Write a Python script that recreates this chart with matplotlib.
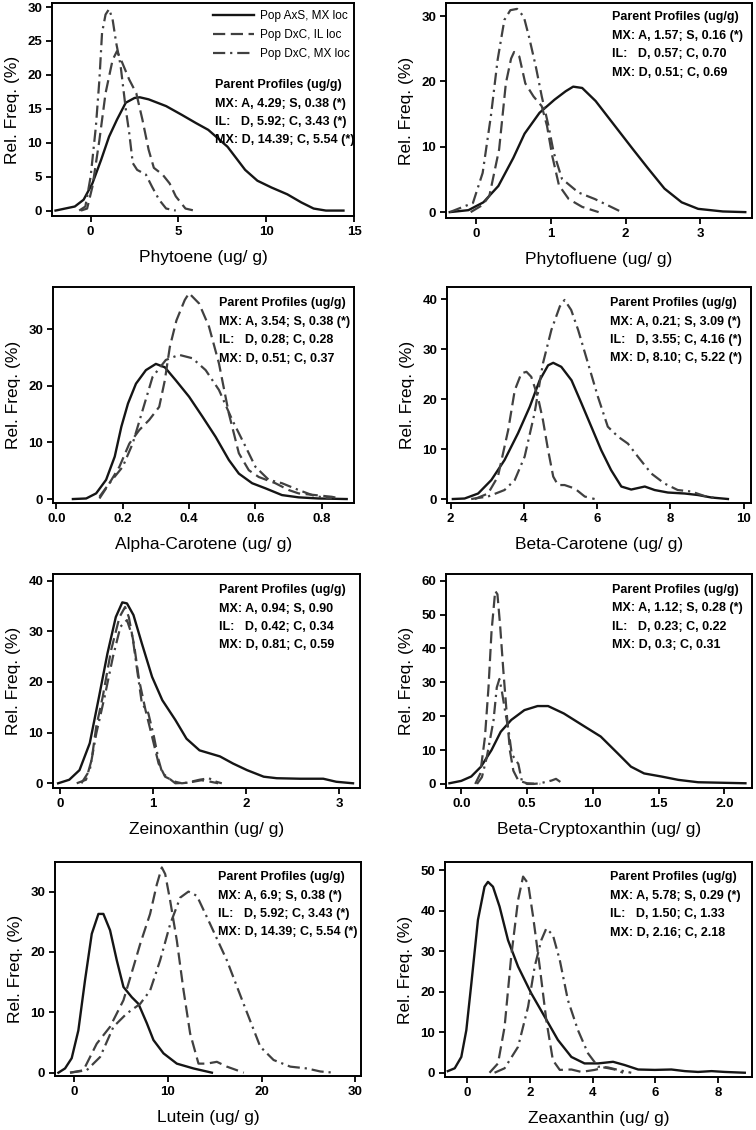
import matplotlib
matplotlib.use('Agg')
import matplotlib.pyplot as plt
from matplotlib.lines import Line2D

plt.rcParams['font.family'] = ['Liberation Sans', 'DejaVu Sans']

# (x, y) points; axs = Pop AxS MX, il = Pop DxC IL, mx = Pop DxC MX
phytoene_axs = [(-2.0, 0), (-0.9, 0.6), (-0.4, 1.6), (0.1, 4.0), (0.6, 7.5), (1.05, 10.9), (1.5, 13.4),
                (2.0, 15.9), (2.5, 16.6), (2.8, 16.7), (3.3, 16.4), (4.3, 15.4), (5.2, 14.1), (6.0, 12.9),
                (6.7, 11.9), (7.8, 9.4), (8.8, 6.0), (9.5, 4.4), (10.3, 3.4), (11.2, 2.4), (12.0, 1.2),
                (12.7, 0.3), (13.4, 0), (14.4, 0)]
phytoene_il = [(-0.55, 0), (-0.2, 0.3), (0.1, 3.5), (0.5, 10.4), (0.85, 17.3), (1.25, 22.2), (1.5, 23.5),
               (1.8, 21.8), (2.2, 19.3), (2.6, 17.3), (2.95, 13.4), (3.3, 9.0), (3.6, 6.3), (4.1, 5.3),
               (4.5, 4.0), (4.85, 2.1), (5.4, 0.3), (5.9, 0)]
phytoene_mx = [(-0.65, 0), (-0.3, 0.6), (0.0, 5.0), (0.3, 12.4), (0.5, 19.3), (0.65, 26.2), (0.85, 28.9),
               (1.05, 29.7), (1.25, 28.2), (1.45, 24.8), (1.7, 21.5), (2.0, 15.0), (2.2, 11.4), (2.4, 7.0),
               (2.65, 6.0), (3.15, 5.3), (3.5, 3.5), (3.9, 1.6), (4.3, 0.3), (4.85, 0)]

phytofluene_axs = [(-0.35, 0), (-0.1, 0.3), (0.1, 1.5), (0.3, 4.0), (0.5, 8.3), (0.65, 12.0), (0.85, 15.2),
                   (1.05, 17.2), (1.2, 18.5), (1.3, 19.2), (1.42, 19.0), (1.6, 17.0), (1.85, 13.3),
                   (2.1, 9.6), (2.3, 6.7), (2.52, 3.6), (2.75, 1.5), (2.97, 0.5), (3.3, 0.1), (3.6, 0)]
phytofluene_il = [(-0.07, 0), (0.09, 1.1), (0.18, 2.5), (0.31, 9.6), (0.4, 19.7), (0.47, 23.5), (0.51, 24.5),
                  (0.58, 23.8), (0.66, 19.7), (0.77, 17.7), (0.88, 16.2), (0.95, 13.2), (1.02, 8.6),
                  (1.11, 4.1), (1.24, 2.0), (1.42, 0.8), (1.64, 0)]
phytofluene_mx = [(-0.35, 0), (-0.04, 1.4), (0.09, 6.0), (0.2, 14.7), (0.29, 23.3), (0.38, 29.4), (0.46, 30.9),
                  (0.55, 31.1), (0.64, 29.9), (0.71, 26.8), (0.8, 22.3), (0.88, 17.7), (0.97, 13.2),
                  (1.04, 9.1), (1.15, 5.1), (1.37, 3.0), (1.59, 2.0), (1.77, 1.0), (1.95, 0)]

alpha_axs = [(0.05, 0), (0.09, 0.1), (0.12, 1.0), (0.15, 3.4), (0.176, 7.5), (0.196, 12.8), (0.216, 16.9),
             (0.24, 20.4), (0.27, 22.8), (0.3, 23.9), (0.327, 23.3), (0.36, 21.0), (0.4, 18.1), (0.44, 14.6),
             (0.48, 11.0), (0.52, 6.9), (0.55, 4.5), (0.59, 2.8), (0.63, 1.9), (0.68, 0.7), (0.73, 0.3),
             (0.79, 0.1), (0.875, 0)]
alpha_il = [(0.13, 0.1), (0.16, 2.8), (0.19, 5.7), (0.22, 9.8), (0.25, 12.2), (0.28, 14.0), (0.31, 16.3),
            (0.327, 21.0), (0.342, 26.9), (0.362, 31.6), (0.387, 35.2), (0.4, 36.4), (0.43, 34.6),
            (0.46, 30.5), (0.49, 24.0), (0.52, 15.1), (0.55, 8.1), (0.58, 5.1), (0.61, 3.9), (0.66, 2.8),
            (0.7, 1.6), (0.73, 1.0), (0.78, 0.7), (0.83, 0.4), (0.855, 0.1)]
alpha_mx = [(0.13, 0.4), (0.16, 2.8), (0.2, 5.7), (0.23, 9.8), (0.26, 15.7), (0.29, 21.6), (0.33, 24.6),
            (0.37, 25.5), (0.41, 24.9), (0.45, 22.8), (0.49, 19.3), (0.53, 14.0), (0.57, 9.3), (0.6, 5.7),
            (0.64, 3.4), (0.68, 2.8), (0.73, 1.6), (0.78, 0.5), (0.83, 0.1)]

beta_axs = [(2.06, 0), (2.38, 0.1), (2.75, 1.1), (3.11, 3.8), (3.47, 7.8), (3.84, 13.2), (4.16, 18.5),
            (4.43, 23.8), (4.66, 26.8), (4.8, 27.3), (5.02, 26.5), (5.3, 23.8), (5.57, 19.2), (5.84, 14.5),
            (6.11, 9.8), (6.38, 5.8), (6.66, 2.5), (6.93, 1.9), (7.3, 2.5), (7.57, 1.8), (7.93, 1.3),
            (8.39, 1.1), (8.75, 0.8), (9.12, 0.3), (9.57, 0)]
beta_il = [(2.66, 0), (3.02, 1.1), (3.29, 4.5), (3.57, 13.8), (3.75, 21.8), (3.93, 25.2), (4.07, 25.5),
           (4.2, 24.5), (4.38, 20.5), (4.52, 15.8), (4.66, 9.8), (4.8, 4.5), (4.93, 2.8), (5.11, 2.8),
           (5.39, 2.1), (5.66, 0.5), (5.93, 0)]
beta_mx = [(2.56, 0), (3.02, 0.5), (3.47, 1.8), (3.75, 3.8), (4.02, 8.5), (4.29, 17.2), (4.52, 27.2),
           (4.75, 33.9), (4.98, 38.6), (5.11, 39.9), (5.29, 37.9), (5.48, 33.9), (5.75, 27.2), (6.02, 20.5),
           (6.29, 14.5), (6.57, 12.5), (6.84, 11.1), (7.11, 8.5), (7.48, 5.1), (7.84, 3.1), (8.2, 1.8),
           (8.57, 1.5), (8.93, 0.6), (9.3, 0.1)]

zein_axs = [(-0.02, 0), (0.1, 0.7), (0.21, 2.6), (0.32, 7.9), (0.42, 17.1), (0.51, 25.6), (0.6, 32.8),
            (0.67, 35.7), (0.72, 35.5), (0.79, 33.2), (0.88, 27.6), (0.99, 21.0), (1.1, 16.4), (1.24, 12.5),
            (1.36, 8.8), (1.5, 6.5), (1.72, 5.3), (1.86, 3.9), (2.01, 2.6), (2.19, 1.3), (2.33, 1.0),
            (2.58, 0.9), (2.83, 0.9), (2.97, 0.3), (3.15, 0)]
zein_il = [(0.18, 0), (0.28, 0.7), (0.34, 4.6), (0.39, 11.2), (0.46, 17.1), (0.55, 26.3), (0.64, 32.8),
           (0.7, 34.8), (0.74, 32.8), (0.8, 26.9), (0.85, 20.4), (0.92, 14.4), (0.99, 9.2), (1.06, 3.9),
           (1.13, 1.3), (1.24, 0.3), (1.31, 0), (1.4, 0.2), (1.52, 0.6), (1.62, 0.3), (1.7, 0)]
zein_mx = [(0.23, 0), (0.32, 2.6), (0.39, 9.8), (0.48, 17.1), (0.57, 25.0), (0.65, 30.9), (0.72, 32.2),
           (0.78, 28.9), (0.83, 22.3), (0.88, 15.8), (0.95, 13.8), (1.01, 9.2), (1.06, 4.6), (1.1, 2.0),
           (1.24, 0), (1.36, 0.1), (1.5, 0.7), (1.6, 1.0), (1.68, 0.3), (1.74, 0)]

crypto_axs = [(-0.09, 0.2), (0.0, 0.9), (0.076, 2.2), (0.15, 5.1), (0.23, 10.0), (0.3, 15.4), (0.38, 18.9),
              (0.48, 21.8), (0.58, 23.0), (0.66, 23.0), (0.78, 20.8), (0.94, 16.9), (1.06, 14.0), (1.19, 9.0),
              (1.29, 5.1), (1.39, 3.1), (1.52, 2.2), (1.65, 1.2), (1.8, 0.5), (1.92, 0.4), (2.16, 0.2)]
crypto_il = [(0.106, 0), (0.144, 3.0), (0.18, 13.8), (0.207, 28.5), (0.23, 45.0), (0.258, 57.0), (0.275, 56.0),
             (0.295, 47.0), (0.32, 33.4), (0.346, 20.6), (0.37, 9.8), (0.396, 3.9), (0.434, 1.0), (0.5, 0.2),
             (0.6, 0)]
crypto_mx = [(0.12, 0), (0.157, 2.0), (0.194, 7.9), (0.245, 18.7), (0.27, 28.5), (0.29, 31.0), (0.308, 27.5),
             (0.333, 21.6), (0.36, 15.7), (0.384, 8.8), (0.434, 5.9), (0.46, 1.0), (0.5, 0), (0.55, 0),
             (0.6, 0.2), (0.686, 1.0), (0.72, 1.5), (0.775, 0)]

lutein_axs = [(-1.67, 0), (-0.96, 0.7), (-0.25, 2.4), (0.46, 7.0), (1.17, 15.3), (1.89, 23.0), (2.6, 26.3),
              (3.13, 26.3), (3.84, 23.6), (4.56, 18.6), (5.27, 14.2), (6.16, 12.5), (6.87, 11.4), (7.76, 8.2),
              (8.47, 5.4), (9.54, 3.2), (10.96, 1.5), (12.74, 0.7), (14.7, 0)]
lutein_il = [(-0.43, 0), (1.0, 0.4), (2.42, 4.8), (3.84, 7.6), (5.27, 12.0), (6.33, 17.5), (7.05, 21.3),
             (8.11, 26.3), (8.83, 31.2), (9.36, 34.0), (9.72, 32.9), (10.25, 28.5), (10.96, 21.9),
             (11.67, 13.7), (12.38, 6.5), (13.27, 1.5), (14.16, 1.5), (15.23, 1.8), (16.3, 1.0), (18.1, 0)]
lutein_mx = [(-0.43, 0), (1.35, 0.4), (2.78, 2.6), (4.2, 7.6), (5.62, 9.8), (7.05, 11.4), (8.11, 13.6),
             (9.18, 18.6), (10.25, 24.6), (11.32, 29.0), (12.2, 30.0), (13.1, 29.3), (14.52, 24.6),
             (16.3, 18.6), (18.08, 11.4), (19.86, 4.3), (21.28, 2.1), (23.06, 1.0), (24.84, 0.7),
             (26.26, 0.2), (27.7, 0)]

zea_axs = [(-0.62, 0.4), (-0.4, 1.1), (-0.19, 3.9), (-0.03, 10.5), (0.13, 22.0), (0.34, 37.7), (0.55, 45.9),
           (0.66, 47.1), (0.82, 45.9), (1.03, 41.0), (1.3, 32.7), (1.62, 26.2), (2.04, 19.6), (2.47, 13.8),
           (2.89, 8.1), (3.32, 3.9), (3.74, 2.3), (4.17, 2.3), (4.65, 2.7), (5.02, 1.9), (5.45, 0.8),
           (5.98, 0.7), (6.51, 0.8), (6.94, 0.4), (7.36, 0.2), (7.79, 0.4), (8.21, 0.2), (8.85, 0)]
zea_il = [(0.71, 0), (0.98, 2.3), (1.19, 11.3), (1.4, 28.6), (1.62, 42.6), (1.78, 48.4), (1.94, 46.7),
          (2.1, 38.5), (2.31, 26.2), (2.52, 13.0), (2.73, 3.1), (2.95, 0.7), (3.32, 0.8), (3.64, 0.2),
          (4.06, 0.7), (4.38, 1.3), (4.7, 0.8), (4.97, 0)]
zea_mx = [(0.87, 0), (1.19, 1.1), (1.62, 6.4), (1.94, 16.3), (2.15, 26.2), (2.36, 32.7), (2.52, 35.6),
          (2.73, 34.0), (2.95, 27.8), (3.21, 17.9), (3.53, 10.5), (3.85, 4.8), (4.17, 1.5), (4.49, 1.3),
          (4.81, 0.7), (5.23, 0)]

xlabels = ['Phytoene (ug/ g)', 'Phytofluene (ug/ g)', 'Alpha-Carotene (ug/ g)', 'Beta-Carotene (ug/ g)',
           'Zeinoxanthin (ug/ g)', 'Beta-Cryptoxanthin (ug/ g)', 'Lutein (ug/ g)', 'Zeaxanthin (ug/ g)']

xticks = [[0, 5, 10, 15], [0, 1, 2, 3], [0.0, 0.2, 0.4, 0.6, 0.8], [2, 4, 6, 8, 10],
          [0, 1, 2, 3], [0.0, 0.5, 1.0, 1.5, 2.0], [0, 10, 20, 30], [0, 2, 4, 6, 8]]
xtick_fmt = ['{:.0f}', '{:.0f}', '{:.1f}', '{:.0f}', '{:.0f}', '{:.1f}', '{:.0f}', '{:.0f}']
yticks = [[0, 5, 10, 15, 20, 25, 30], [0, 10, 20, 30], [0, 10, 20, 30], [0, 10, 20, 30, 40],
          [0, 10, 20, 30, 40], [0, 10, 20, 30, 40, 50, 60], [0, 10, 20, 30], [0, 10, 20, 30, 40, 50]]

profiles = [
    ['MX: A, 4.29; S, 0.38 (*)', 'IL:   D, 5.92; C, 3.43 (*)', 'MX: D, 14.39; C, 5.54 (*)'],
    ['MX: A, 1.57; S, 0.16 (*)', 'IL:   D, 0.57; C, 0.70', 'MX: D, 0.51; C, 0.69'],
    ['MX: A, 3.54; S, 0.38 (*)', 'IL:   D, 0.28; C, 0.28', 'MX: D, 0.51; C, 0.37'],
    ['MX: A, 0.21; S, 3.09 (*)', 'IL:   D, 3.55; C, 4.16 (*)', 'MX: D, 8.10; C, 5.22 (*)'],
    ['MX: A, 0.94; S, 0.90', 'IL:   D, 0.42; C, 0.34', 'MX: D, 0.81; C, 0.59'],
    ['MX: A, 1.12; S, 0.28 (*)', 'IL:   D, 0.23; C, 0.22', 'MX: D, 0.3; C, 0.31'],
    ['MX: A, 6.9; S, 0.38 (*)', 'IL:   D, 5.92; C, 3.43 (*)', 'MX: D, 14.39; C, 5.54 (*)'],
    ['MX: A, 5.78; S, 0.29 (*)', 'IL:   D, 1.50; C, 1.33', 'MX: D, 2.16; C, 2.18'],
]

legend_labels = ['Pop AxS, MX loc', 'Pop DxC, IL loc', 'Pop DxC, MX loc']

curves = [
    (phytoene_axs, phytoene_il, phytoene_mx),
    (phytofluene_axs, phytofluene_il, phytofluene_mx),
    (alpha_axs, alpha_il, alpha_mx),
    (beta_axs, beta_il, beta_mx),
    (zein_axs, zein_il, zein_mx),
    (crypto_axs, crypto_il, crypto_mx),
    (lutein_axs, lutein_il, lutein_mx),
    (zea_axs, zea_il, zea_mx),
]

# layout, in pixels of the 756x1130 picture: (left, top, right, bottom)
boxes = [(52, 3, 354, 216), (446, 3, 752, 218), (53, 287, 354, 503), (447, 287, 751, 503),
         (53, 574, 360, 788), (446, 574, 752, 788), (55, 862, 361, 1076), (445, 862, 752, 1077)]
xlims = [(-2.2, 15), (-0.40, 3.69), (-0.01, 0.897), (1.9, 10.2),
         (-0.075, 3.225), (-0.116, 2.21), (-2.03, 30.6), (-0.71, 9.08)]
ylims = [(-0.8, 30.6), (-0.9, 32.0), (-0.7, 37.5), (-0.8, 42.5),
         (-0.93, 41.3), (-1.2, 62), (-0.55, 34.9), (-1.05, 52)]
# text block: left x (axes fraction), first-line offset from top (px)
text_pos = [(0.540, 82), (0.542, 14), (0.551, 16), (0.536, 16),
            (0.541, 16), (0.542, 16), (0.533, 15), (0.537, 15)]

styles = [dict(color='#151515', lw=1.7, ls='-'),
          dict(color='#404040', lw=1.6, dashes=(5.5, 2.5)),
          dict(color='#404040', lw=1.6, dashes=(5.5, 2.2, 1.0, 2.2))]

W, H = 756, 1130
fig = plt.figure(figsize=(W / 100, H / 100), dpi=100)

for i in range(8):
    l, t, r, b = boxes[i]
    ax = fig.add_axes([l / W, 1 - b / H, (r - l) / W, (b - t) / H])
    for pts, st in zip(curves[i], styles):
        xs = [p[0] for p in pts]
        ys = [p[1] for p in pts]
        ax.plot(xs, ys, solid_joinstyle='round', **st)
    ax.set_xlim(*xlims[i])
    ax.set_ylim(*ylims[i])
    ax.set_xticks(xticks[i])
    ax.set_xticklabels([xtick_fmt[i].format(v) for v in xticks[i]])
    ax.set_yticks(yticks[i])
    ax.set_yticklabels([str(v) for v in yticks[i]])
    ax.tick_params(direction='out', length=4, width=1.3, labelsize=9.5, pad=3)
    plt.setp(ax.get_xticklabels() + ax.get_yticklabels(), fontweight='bold')
    for s in ax.spines.values():
        s.set_linewidth(1.4)
    ax.set_xlabel(xlabels[i], fontsize=12.5, labelpad=9)
    ax.set_ylabel('Rel. Freq. (%)', fontsize=12.5, labelpad=5)

    h_px = b - t
    tx, off = text_pos[i]
    lines = ['Parent Profiles (ug/g)'] + profiles[i]
    for k, line in enumerate(lines):
        ax.text(tx, 1 - (off + k * 18.5) / h_px, line, transform=ax.transAxes,
                fontsize=9, fontweight='bold', ha='left', va='center')

    if i == 0:
        handles = [Line2D([], [], **st) for st in styles]
        ax.legend(handles, legend_labels, loc='upper right', bbox_to_anchor=(1.0, 0.99),
                  frameon=False, fontsize=8.5, handlelength=3.4, handletextpad=0.5,
                  labelspacing=0.62, borderaxespad=0.2, borderpad=0.2)

fig.savefig('out.png', dpi=100)
